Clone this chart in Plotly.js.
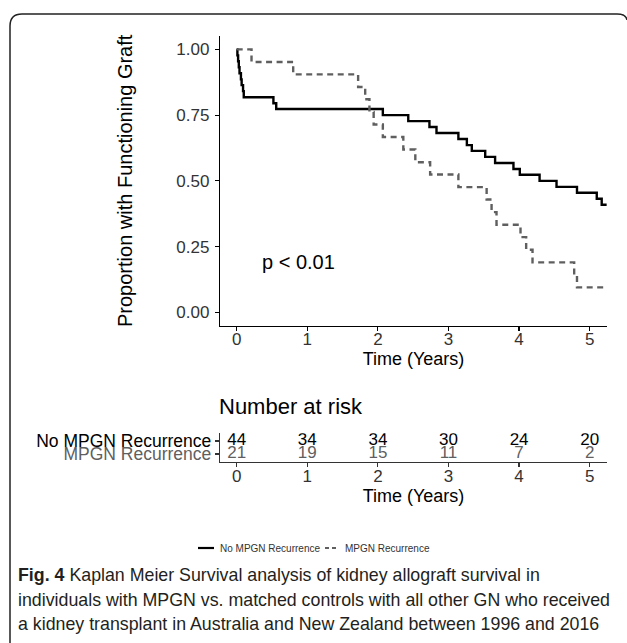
<!DOCTYPE html>
<html>
<head>
<meta charset="utf-8">
<script src="https://cdn.plot.ly/plotly-3.0.1.min.js"></script>
<style>html,body{margin:0;padding:0;background:#fff;}#chart{width:627px;height:643px;}</style>
</head>
<body>
<div id="chart"></div>
<script>
// ---- data ----
const seriesNames = ["No MPGN Recurrence", "MPGN Recurrence"];
const noRecTime = [0, 0.01, 0.02, 0.03, 0.04, 0.06, 0.07, 0.09, 0.10, 0.52, 0.56, 2.07, 2.43, 2.73, 2.83, 3.14, 3.26, 3.33, 3.52, 3.66, 3.92, 4.01, 4.29, 4.53, 4.82, 5.10, 5.17, 5.24];
const noRecSurv = [1.000, 0.977, 0.955, 0.932, 0.909, 0.886, 0.864, 0.841, 0.818, 0.795, 0.773, 0.750, 0.727, 0.705, 0.682, 0.659, 0.636, 0.614, 0.591, 0.568, 0.545, 0.523, 0.500, 0.477, 0.455, 0.432, 0.409, 0.409];
const recTime = [0, 0.21, 0.80, 1.72, 1.82, 1.88, 1.94, 2.07, 2.36, 2.53, 2.74, 3.14, 3.54, 3.61, 3.68, 4.02, 4.10, 4.19, 4.78, 4.82, 5.24];
const recSurv = [1.000, 0.952, 0.905, 0.857, 0.810, 0.762, 0.714, 0.667, 0.619, 0.571, 0.524, 0.476, 0.429, 0.381, 0.333, 0.286, 0.238, 0.190, 0.143, 0.095, 0.095];
const riskTimes = [0, 1, 2, 3, 4, 5];
const noRecRisk = [44, 34, 34, 30, 24, 20];
const recRisk = [21, 19, 15, 11, 7, 2];
const yTicks = [0, 0.25, 0.5, 0.75, 1];
const pValueText = "p < 0.01";
const captionLines = [
  "<b>Fig. 4</b> Kaplan Meier Survival analysis of kidney allograft survival in",
  "individuals with MPGN vs. matched controls with all other GN who received",
  "a kidney transplant in Australia and New Zealand between 1996 and 2016"
];

// ---- styling / layout helpers (pixel -> paper) ----
const W = 627, H = 643;
const px = x => x / W;
const py = y => (H - y) / H;
const FONT = "Liberation Sans, Arial, sans-serif";
const xRange = [-0.2365, 5.245];
const xDomain = [px(220), px(607)];
const colNoRec = "#000000", colRec = "#5f5f5f";
const dashRec = "6px,4.5px";

const traces = [
  {x: noRecTime, y: noRecSurv, type: "scatter", mode: "lines", name: seriesNames[0], showlegend: false,
   line: {shape: "hv", color: colNoRec, width: 2.4}, xaxis: "x", yaxis: "y"},
  {x: recTime, y: recSurv, type: "scatter", mode: "lines", name: seriesNames[1], showlegend: false,
   line: {shape: "hv", color: colRec, width: 2.4, dash: dashRec}, xaxis: "x", yaxis: "y"},
  {x: riskTimes, y: riskTimes.map(() => 2), text: noRecRisk.map(String), type: "scatter", mode: "text",
   name: seriesNames[0] + " at risk",
   textfont: {family: FONT, size: 17, color: colNoRec}, showlegend: false, hoverinfo: "skip",
   xaxis: "x2", yaxis: "y2"},
  {x: riskTimes, y: riskTimes.map(() => 1), text: recRisk.map(String), type: "scatter", mode: "text",
   name: seriesNames[1] + " at risk",
   textfont: {family: FONT, size: 17, color: colRec}, showlegend: false, hoverinfo: "skip",
   xaxis: "x2", yaxis: "y2"}
];

const axisCommon = {
  showline: true, linecolor: "#000", linewidth: 1.2, ticks: "outside", ticklen: 4,
  tickcolor: "#000", tickwidth: 1.2, showgrid: false, zeroline: false, fixedrange: true
};

// custom compact legend (short line samples like the reference)
const legY = 548, legFont = 10;
const leg1x = 198, leg2x = 325;

const layout = {
  width: W, height: H,
  margin: {l: 0, r: 0, t: 0, b: 0},
  paper_bgcolor: "#fff", plot_bgcolor: "#fff",
  font: {family: FONT, color: "#000"},
  showlegend: false,
  xaxis: Object.assign({}, axisCommon, {
    domain: xDomain, range: xRange, anchor: "y", tickvals: riskTimes,
    tickfont: {size: 17, color: "#333"}, ticklabelstandoff: -6,
    title: {text: "Time (Years)", font: {size: 18, color: "#000"}, standoff: 2}
  }),
  yaxis: Object.assign({}, axisCommon, {
    domain: [py(325.5), py(36.2)], range: [-0.05, 1.05], anchor: "x", tickvals: yTicks,
    tickformat: ".2f", tickfont: {size: 17, color: "#333"}, ticklabelstandoff: 2,
    title: {text: "Proportion with Functioning Graft", font: {size: 20, color: "#000"}, standoff: 38}
  }),
  xaxis2: Object.assign({}, axisCommon, {
    domain: xDomain, range: xRange, anchor: "y2", tickvals: riskTimes,
    linecolor: "#333", tickcolor: "#333", ticklabelstandoff: -5,
    tickfont: {size: 17, color: "#333"},
    title: {text: "Time (Years)", font: {size: 18, color: "#000"}, standoff: 2}
  }),
  yaxis2: Object.assign({}, axisCommon, {
    domain: [py(461.8), py(433.2)], range: [0.4, 2.6], anchor: "x2",
    linecolor: "#333", tickcolor: "#333",
    tickvals: [2, 1],
    ticktext: [seriesNames[0], '<span style="color:' + colRec + '">' + seriesNames[1] + '</span>'],
    tickfont: {size: 17.5, color: "#000"}
  }),
  annotations: [
    {xref: "x", yref: "y", x: 0.33, y: 0.19, xanchor: "left", yanchor: "middle",
     text: pValueText, showarrow: false, font: {size: 20, color: "#000"}},
    {xref: "paper", yref: "paper", x: px(217), y: py(406), xanchor: "left", yanchor: "middle",
     text: "Number at risk", showarrow: false, font: {size: 22, color: "#000"}},
    {xref: "paper", yref: "paper", x: px(leg1x + 20), y: py(legY), xanchor: "left", yanchor: "middle",
     text: seriesNames[0], showarrow: false, font: {size: legFont, color: "#333"}},
    {xref: "paper", yref: "paper", x: px(leg2x + 18), y: py(legY), xanchor: "left", yanchor: "middle",
     text: seriesNames[1], showarrow: false, font: {size: legFont, color: "#333"}}
  ].concat(captionLines.map((t, i) => ({
     xref: "paper", yref: "paper", x: px(16), y: py(575 + i * 24.7), xanchor: "left", yanchor: "middle",
     text: t, showarrow: false, font: {size: 17.8, color: "#231f20"}
  }))),
  shapes: [
    {type: "path", xref: "paper", yref: "paper",
     path: `M ${px(10)},${py(650)} L ${px(10)},${py(26)} Q ${px(10)},${py(14)} ${px(22)},${py(14)} L ${px(617)},${py(14)} Q ${px(626)},${py(14)} ${px(627)},${py(20)}`,
     line: {color: "#222", width: 1.5}},
    {type: "line", xref: "paper", yref: "paper", x0: px(leg1x), x1: px(leg1x + 16), y0: py(legY), y1: py(legY),
     line: {color: colNoRec, width: 2.2}},
    {type: "line", xref: "paper", yref: "paper", x0: px(leg2x), x1: px(leg2x + 14), y0: py(legY), y1: py(legY),
     line: {color: colRec, width: 2.2, dash: "4px,3px"}}
  ]
};

Plotly.newPlot("chart", traces, layout, {displayModeBar: false, staticPlot: true});
</script>
</body>
</html>
